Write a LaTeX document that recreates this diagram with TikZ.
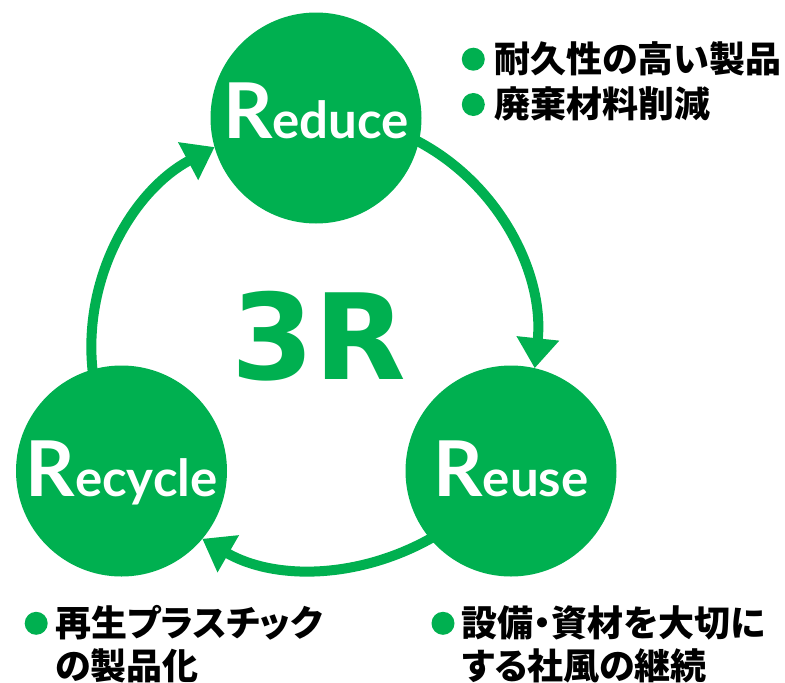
\documentclass[tikz,border=0pt]{standalone}
\usepackage{fontspec}
\usetikzlibrary{arrows.meta}
\newfontfamily\cjk{Noto Sans CJK JP}[RawFeature=+palt]
\newfontfamily\latofont{Lato}
\newfontfamily\dejavu{DejaVu Sans}
\definecolor{rgreen}{HTML}{00B050}
\newcommand{\bigR}[1]{{\fontsize{77}{77}\selectfont R}{\fontsize{51}{51}\selectfont #1}}

\begin{document}
\begin{tikzpicture}[x=1pt, y=1pt]
    \tikzstyle{stage} = [circle, fill=rgreen, minimum size=211pt, inner sep=0pt, outer sep=0pt, text=white, font=\latofont\bfseries, text height=55pt, text depth=15pt]
    \tikzstyle{cyclearrow} = [rgreen, line width=10pt, -{Triangle[length=30pt, width=41pt]}, shorten <=-5pt, looseness=0.93]
    \tikzstyle{note} = [anchor=west, inner sep=0pt, font=\cjk\bfseries\fontsize{36}{36}\selectfont]
    \tikzstyle{dot} = [circle, fill=rgreen, minimum size=23pt, inner sep=0pt]
    \useasboundingbox (0, 0) rectangle (785, -683);
    \node[stage] (reduce) at (316, -118) {\bigR{educe}};
    \node[stage, text height=61pt, text depth=10pt] (reuse) at (511, -471) {\bigR{euse}};
    \node[stage, text height=61pt, text depth=10pt] (recycle) at (121.5, -471) {\bigR{ecycle}};
    \node[text=rgreen, font=\dejavu\bfseries\fontsize{119}{119}\selectfont] (threeR) at (319, -336.5) {3R};
    \draw[cyclearrow] (reduce.-13) to[out=-27, in=84] (reuse.77);
    \draw[cyclearrow] (reuse.-140) to[out=-150, in=-30] (recycle.-40);
    \draw[cyclearrow] (recycle.106) to[out=97, in=208] (reduce.196);
    \node[dot] (dotA) at (473.3, -59.2) {};
    \node[dot] (dotB) at (473.3, -104.5) {};
    \node[dot] (dotC) at (36.2, -623.3) {};
    \node[dot] (dotD) at (443, -623.3) {};
    \node[note] (durable) at (494, -58.5) {耐久性の高い製品};
    \node[note] (waste) at (494, -104) {廃棄材料削減};
    \node[note] (plastic) at (55, -622.5) {再生プラスチック};
    \node[note] (plasticB) at (55, -666) {の製品化};
    \node[note] (culture) at (461.7, -622.5) {設備・資材を大切に};
    \node[note] (cultureB) at (461.7, -666) {する社風の継続};
\end{tikzpicture}
\end{document}
